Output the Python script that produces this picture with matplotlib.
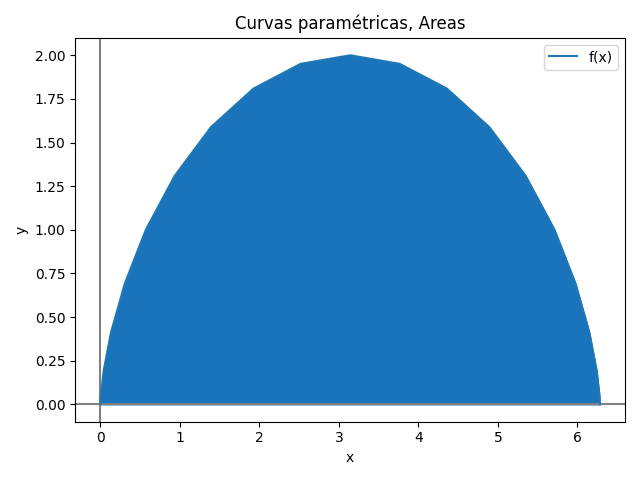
import matplotlib
matplotlib.use("Agg")
import matplotlib.pyplot as plt

# points (cycloid-like arch)
xs = [0.0, 0.005, 0.040, 0.133, 0.306, 0.571, 0.934, 1.390, 1.925, 2.518, 3.142,
      3.765, 4.359, 4.893, 5.349, 5.712, 5.977, 6.150, 6.243, 6.278, 6.283]
ys = [0.0, 0.049, 0.191, 0.412, 0.691, 1.0, 1.309, 1.588, 1.809, 1.951, 2.0,
      1.951, 1.809, 1.588, 1.309, 1.0, 0.691, 0.412, 0.191, 0.049, 0.0]

fig, ax = plt.subplots(figsize=(6.4, 4.8), dpi=100)
ax.axhline(0, color="gray")
ax.axvline(0, color="gray")
ax.plot(xs, ys, color="#1f77b4", label="f(x)")
ax.fill_between(xs, ys, color="#1a74bc")
ax.set_xlim(-0.32, 6.6)
ax.set_ylim(-0.1, 2.1)
ax.set_xlabel("x")
ax.set_ylabel("y")
ax.set_title("Curvas paramétricas, Areas")
ax.legend(loc="upper right")
fig.tight_layout()
fig.savefig("out.png")
